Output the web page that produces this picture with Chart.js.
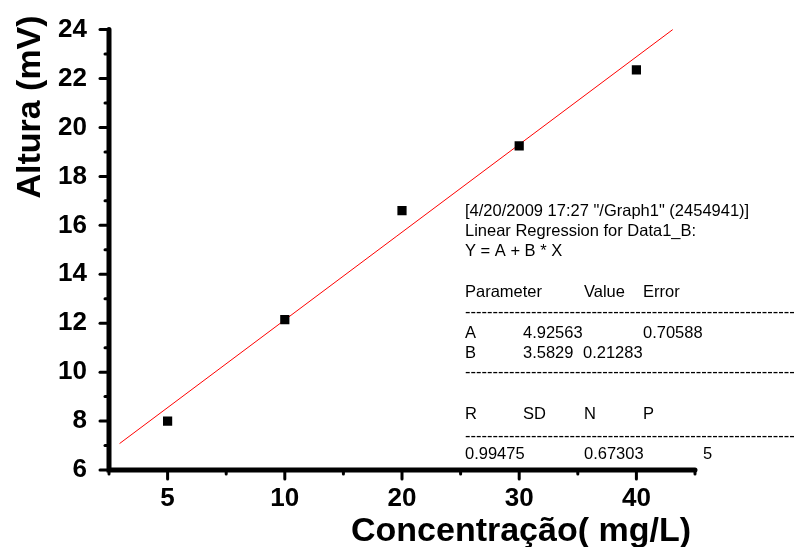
<!DOCTYPE html>
<html>
<head>
<meta charset="utf-8">
<script src="https://cdn.jsdelivr.net/npm/chart.js@4"></script>
<style>
body{margin:0;background:#fff;}
#wrap{width:794px;height:547px;position:relative;}
</style>
</head>
<body>
<div id="wrap"><canvas id="chart"></canvas></div>
<script>

/* -------- DATA -------- */

const xLabels = ["5","10","20","30","40"];
const xPos = [1,2,3,4,5];
const altura = [8.0, 12.15, 16.6, 19.25, 22.35];

// ends of the red fit line
const fitX = [0.59, 5.31];
const fitY = [7.08, 24.0];

const yTitle = "Altura (mV)";
const xTitle = "Concentração( mg/L)";

const noteHead = [
"[4/20/2009 17:27 \"/Graph1\" (2454941)]",
"Linear Regression for Data1_B:",
"Y = A + B * X"
];
const paramHead = ["Parameter","Value","Error"];
const rowA = ["A","4.92563","0.70588"];
const rowB = ["B","3.5829","0.21283"];
const statHead = ["R","SD","N","P"];
const statVals = ["0.99475","0.67303","5"];

const FONT = "'Liberation Sans', Arial, sans-serif";


/* -------- EXTRA DRAWING -------- */

const extras = {
id:"extras",
afterDraw(c){

const ctx=c.ctx;
const xs=c.scales.x, ys=c.scales.y;
const left=xs.getPixelForValue(0.5), right=xs.getPixelForValue(5.5);
const top=ys.getPixelForValue(24), bottom=ys.getPixelForValue(6);

ctx.save();
ctx.strokeStyle="#000";
ctx.lineCap="round";

// axes
ctx.lineWidth=5;
ctx.beginPath();
ctx.moveTo(left,top);
ctx.lineTo(left,bottom);
ctx.lineTo(right,bottom);
ctx.stroke();

// ticks
ctx.lineWidth=3;
for(let v=6; v<=24; v++){
const py=ys.getPixelForValue(v);
const len = v%2===0 ? 9 : 4;
ctx.beginPath();
ctx.moveTo(left,py);
ctx.lineTo(left-len,py);
ctx.stroke();
}
for(let v=0.5; v<=5.5; v+=0.5){
const px=xs.getPixelForValue(v);
const len = Number.isInteger(v) ? 9 : 4;
ctx.beginPath();
ctx.moveTo(px,bottom);
ctx.lineTo(px,bottom+len);
ctx.stroke();
}

// axis titles
ctx.fillStyle="#000";
ctx.font="bold 34px "+FONT;
ctx.textAlign="center";
ctx.textBaseline="alphabetic";
ctx.fillText(xTitle,521,541);

ctx.save();
ctx.translate(40,107);
ctx.rotate(-Math.PI/2);
ctx.fillText(yTitle,0,0);
ctx.restore();

// regression note
ctx.font="16.5px "+FONT;
ctx.textAlign="left";
const cols=[465,523,584,643,703];
const dashes="-".repeat(80);

ctx.fillText(noteHead[0],465,216);
ctx.fillText(noteHead[1],465,236);
ctx.fillText(noteHead[2],465,256);

ctx.fillText(paramHead[0],cols[0],297);
ctx.fillText(paramHead[1],cols[2],297);
ctx.fillText(paramHead[2],cols[3],297);

ctx.fillText(dashes,465,317);

ctx.fillText(rowA[0],cols[0],338);
ctx.fillText(rowA[1],cols[1],338);
ctx.fillText(rowA[2],cols[3],338);

ctx.fillText(rowB[0],cols[0],358);
ctx.fillText(rowB[1],cols[1],358);
ctx.fillText(rowB[2],cols[2]-1,358);

ctx.fillText(dashes,465,377);

statHead.forEach((t,i)=>ctx.fillText(t,cols[i],419));

ctx.fillText(dashes,465,441);

ctx.fillText(statVals[0],cols[0],459);
ctx.fillText(statVals[1],cols[2],459);
ctx.fillText(statVals[2],cols[4],459);

ctx.restore();

}
};


/* -------- CHART -------- */

const points = xPos.map((x,i)=>({x:x, y:altura[i]}));
const fit = fitX.map((x,i)=>({x:x, y:fitY[i]}));

new Chart(document.getElementById("chart"),{

type:"scatter",

data:{
datasets:[
{
label:"Data1_B",
data:points,
pointStyle:"rect",
pointRadius:6.5,
backgroundColor:"#000",
borderWidth:0,
showLine:false
},
{
label:"Fit",
data:fit,
showLine:true,
borderColor:"#ff0000",
borderWidth:1,
pointRadius:0,
clip:false
}
]
},

options:{
responsive:true,
maintainAspectRatio:false,
animation:false,
layout:{padding:{top:29,right:99,bottom:0,left:0}},
plugins:{legend:{display:false},tooltip:{enabled:false}},
scales:{
x:{
type:"linear",
min:0.5,
max:5.5,
grid:{display:false},
border:{display:false},
afterBuildTicks:s=>{ s.ticks = xPos.map(v=>({value:v})); },
afterFit:s=>{ s.height=77; },
ticks:{
autoSkip:false,
maxRotation:0,
padding:5,
color:"#000",
font:{family:FONT,size:26,weight:"bold"},
callback:(v,i)=>xLabels[i]
}
},
y:{
min:6,
max:24,
grid:{display:false},
border:{display:false},
afterFit:s=>{ s.width=109; },
ticks:{
stepSize:2,
padding:14,
color:"#000",
font:{family:FONT,size:26,weight:"bold"}
}
}
}
},

plugins:[extras]

});

</script>
</body>
</html>
